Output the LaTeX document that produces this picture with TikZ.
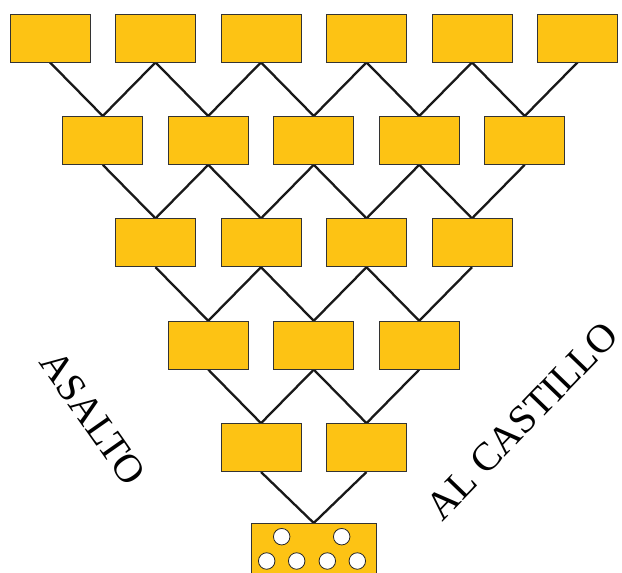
\documentclass[tikz,border=0pt]{standalone}
\usepackage{fontspec}
\setmainfont{Liberation Serif}
\usetikzlibrary{backgrounds}
\definecolor{brickyellow}{RGB}{253,195,20}
\tikzset{
  brick/.style={draw=black!80,line width=0.8pt,fill=brickyellow,minimum width=80pt,minimum height=48pt,inner sep=0pt},
  link/.style={line width=2.3pt,black!90,line join=miter},
  hole/.style={circle,draw=black!85,line width=0.8pt,fill=white,minimum size=16.5pt,inner sep=0pt},
  wall/.style={font=\fontsize{40}{40}\selectfont}
}
\begin{document}
\begin{tikzpicture}[x=1pt,y=-1pt]
          \useasboundingbox (0,0) rectangle (622,573);
          \clip (0,0) rectangle (622,573);
          % --- rows of bricks, one fewer in each row ---
          \foreach \r in {0,...,4} {
            \pgfmathtruncatemacro\n{5-\r}
            \foreach \i in {0,...,\n} \node[brick] (b\r-\i) at ({50+52.75*\r+105.5*\i},{38+102.4*\r}) {};
          }
          % --- the gate at the bottom ---
          \node[brick,minimum width=125pt,minimum height=60pt,anchor=north] (base) at (313.75,523) {};
          \foreach \x/\y [count=\h] in {281.7/536.7,341.7/536.7,266.7/561,296.7/561,327.3/561,357.3/561}
            \node[hole] (h\h) at (\x,\y) {};
          % --- links between the rows ---
          \begin{scope}[on background layer]
            \foreach \r in {0,...,3} {
              \pgfmathtruncatemacro\n{4-\r}
              \pgfmathtruncatemacro\s{\r+1}
              \foreach \j in {0,...,\n} {
                \pgfmathtruncatemacro\k{\j+1}
                \draw[link] (b\r-\j.south) -- (b\s-\j.north) -- (b\r-\k.south);
              }
            }
            \draw[link] (b4-0.south) -- (base.north) -- (b4-1.south);
          \end{scope}
          % --- title along the two sides ---
          \node[wall,rotate=-55] (asalto) at (93,418) {ASALTO};
          \node[wall,rotate=46] (castillo) at (522,421) {AL CASTILLO};
        \end{tikzpicture}
\end{document}
